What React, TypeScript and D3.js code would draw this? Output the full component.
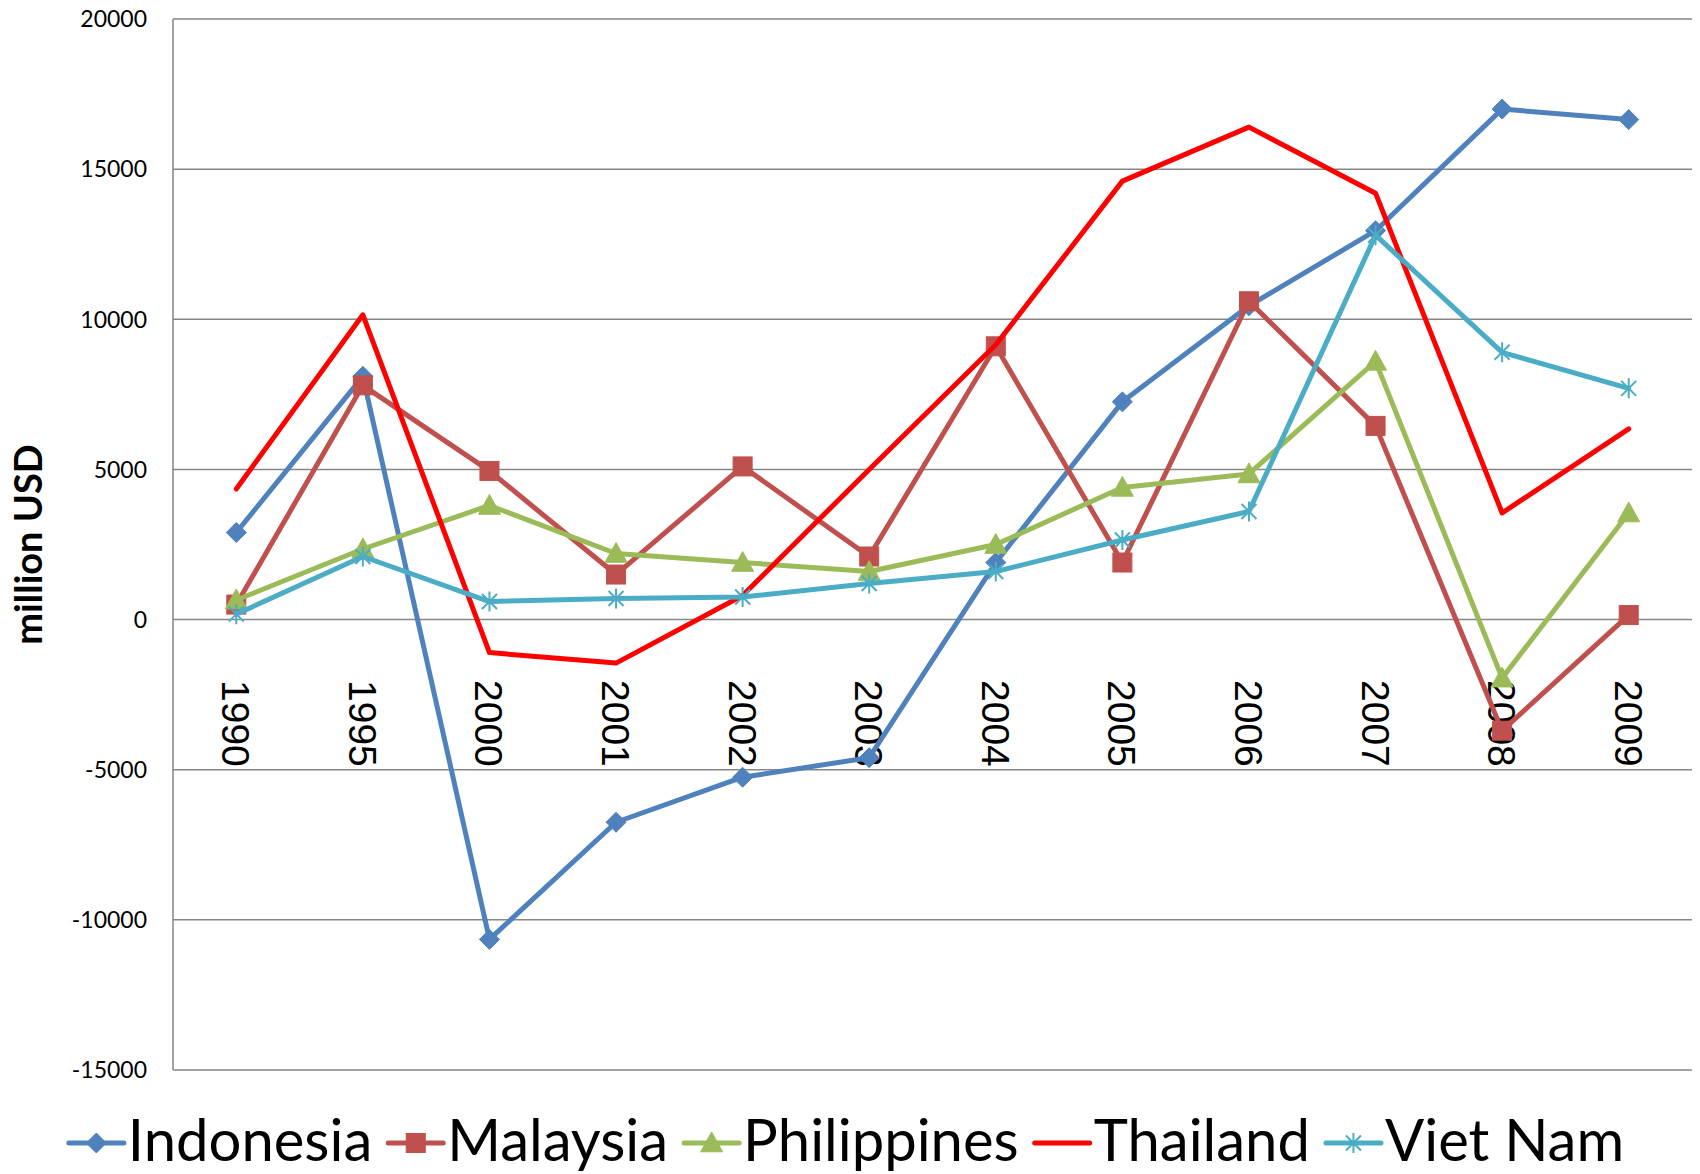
import React, { useEffect, useRef } from "react";
import * as d3 from "d3";

const years = ["1990", "1995", "2000", "2001", "2002", "2003", "2004", "2005", "2006", "2007", "2008", "2009"];
const indonesia = [2900, 8100, -10650, -6750, -5250, -4600, 1900, 7250, 10450, 12950, 17000, 16650];
const malaysia = [500, 7800, 4950, 1500, 5100, 2100, 9100, 1900, 10600, 6450, -3700, 150];
const philippines = [650, 2350, 3800, 2200, 1900, 1600, 2500, 4400, 4850, 8600, -1950, 3550];
const thailand = [4350, 10150, -1100, -1450, 800, 5000, 9150, 14600, 16400, 14200, 3550, 6350];
const vietnam = [180, 2100, 600, 700, 750, 1200, 1600, 2650, 3600, 12800, 8900, 7700];
const yTicks = [-15000, -10000, -5000, 0, 5000, 10000, 15000, 20000];

const series = [
  { name: "Indonesia", values: indonesia, color: "#4F81BD", marker: "diamond" },
  { name: "Malaysia", values: malaysia, color: "#C0504D", marker: "square" },
  { name: "Philippines", values: philippines, color: "#9BBB59", marker: "triangle" },
  { name: "Thailand", values: thailand, color: "#FF0000", marker: "none" },
  { name: "Viet Nam", values: vietnam, color: "#4BACC6", marker: "star" },
];

const W = 1700;
const H = 1174;
const left = 173;
const right = 1692;
const top = 19;
const bottom = 1070;

function drawMarker(g: any, type: string, x: number, y: number, color: string) {
  if (type === "diamond") {
    const r = 10;
    g.append("path")
      .attr("d", `M${x},${y - r}L${x + r},${y}L${x},${y + r}L${x - r},${y}Z`)
      .attr("fill", color)
      .attr("stroke", color)
      .attr("stroke-width", 1);
  } else if (type === "square") {
    const s = 19;
    g.append("rect")
      .attr("x", x - s / 2)
      .attr("y", y - s / 2)
      .attr("width", s)
      .attr("height", s)
      .attr("fill", color)
      .attr("stroke", color)
      .attr("stroke-width", 1);
  } else if (type === "triangle") {
    const s = 11;
    g.append("path")
      .attr("d", `M${x},${y - s}L${x + s},${y + s * 0.8}L${x - s},${y + s * 0.8}Z`)
      .attr("fill", color)
      .attr("stroke", color)
      .attr("stroke-width", 1);
  } else if (type === "star") {
    const r = 10;
    const d = r * 0.75;
    g.append("path")
      .attr("d", `M${x},${y - r}L${x},${y + r}M${x - d},${y - d}L${x + d},${y + d}M${x - d},${y + d}L${x + d},${y - d}`)
      .attr("fill", "none")
      .attr("stroke", color)
      .attr("stroke-width", 2);
  }
}

export default function App() {
  const ref = useRef<SVGSVGElement | null>(null);

  useEffect(() => {
    const svg = d3.select(ref.current);
    svg.selectAll("*").remove();

    const x = d3.scalePoint<string>().domain(years).range([left, right]).padding(0.5);
    const y = d3.scaleLinear().domain([-15000, 20000]).range([bottom, top]);

    svg
      .append("g")
      .selectAll("line")
      .data(yTicks)
      .join("line")
      .attr("x1", left)
      .attr("x2", right)
      .attr("y1", (d) => y(d))
      .attr("y2", (d) => y(d))
      .attr("stroke", "#868686")
      .attr("stroke-width", 1.5);

    svg
      .append("line")
      .attr("x1", left)
      .attr("x2", left)
      .attr("y1", top)
      .attr("y2", bottom)
      .attr("stroke", "#868686")
      .attr("stroke-width", 1.5);

    svg
      .append("g")
      .selectAll("text")
      .data(yTicks)
      .join("text")
      .attr("x", 147)
      .attr("y", (d) => y(d))
      .attr("dy", "0.36em")
      .attr("text-anchor", "end")
      .attr("font-family", "Lato, sans-serif")
      .attr("font-size", 23)
      .attr("fill", "#000")
      .text((d) => String(d));

    const xfs = 39;
    svg
      .append("g")
      .selectAll("text")
      .data(years)
      .join("text")
      .attr("transform", (d) => `translate(${(x(d) as number) - xfs * 0.358},680) rotate(90)`)
      .attr("text-anchor", "start")
      .attr("font-family", "'Liberation Sans', Arial, sans-serif")
      .attr("font-size", xfs)
      .attr("fill", "#000")
      .text((d) => d);

    svg
      .append("text")
      .attr("transform", `translate(42,${(top + bottom) / 2}) rotate(-90)`)
      .attr("text-anchor", "middle")
      .attr("font-family", "Lato, sans-serif")
      .attr("font-weight", "bold")
      .attr("font-size", 38)
      .attr("fill", "#000")
      .text("million USD");

    const line = d3
      .line<number>()
      .x((_, i) => x(years[i]) as number)
      .y((d) => y(d));

    series.forEach((s) => {
      const g = svg.append("g");
      g.append("path")
        .attr("d", line(s.values) as string)
        .attr("fill", "none")
        .attr("stroke", s.color)
        .attr("stroke-width", 5)
        .attr("stroke-linejoin", "round")
        .attr("stroke-linecap", "round");
      s.values.forEach((v, i) => drawMarker(g, s.marker, x(years[i]) as number, y(v), s.color));
    });

    const legend = svg.append("g");
    const ly = 1143;
    const symW = 55;
    const gapSym = 4;
    const gapItem = 16;
    const items: { g: any; w: number }[] = [];
    series.forEach((s) => {
      const g = legend.append("g");
      g.append("line")
        .attr("x1", 0)
        .attr("x2", symW)
        .attr("y1", ly)
        .attr("y2", ly)
        .attr("stroke", s.color)
        .attr("stroke-width", 5)
        .attr("stroke-linecap", "round");
      drawMarker(g, s.marker, symW / 2, ly, s.color);
      const t = g
        .append("text")
        .attr("x", symW + gapSym)
        .attr("y", 1161)
        .attr("font-family", "Lato, sans-serif")
        .attr("font-size", 58)
        .attr("fill", "#000")
        .text(s.name);
      const tw = (t.node() as SVGTextElement).getComputedTextLength();
      items.push({ g, w: symW + gapSym + tw });
    });
    const total = items.reduce((a, b) => a + b.w, 0) + gapItem * (items.length - 1);
    let cx = 846.5 - total / 2;
    items.forEach((it) => {
      it.g.attr("transform", `translate(${cx},0)`);
      cx += it.w + gapItem;
    });
  }, []);

  return (
    <svg
      ref={ref}
      width={W}
      height={H}
      style={{ position: "absolute", left: 0, top: 0, background: "#fff", display: "block" }}
    />
  );
}
